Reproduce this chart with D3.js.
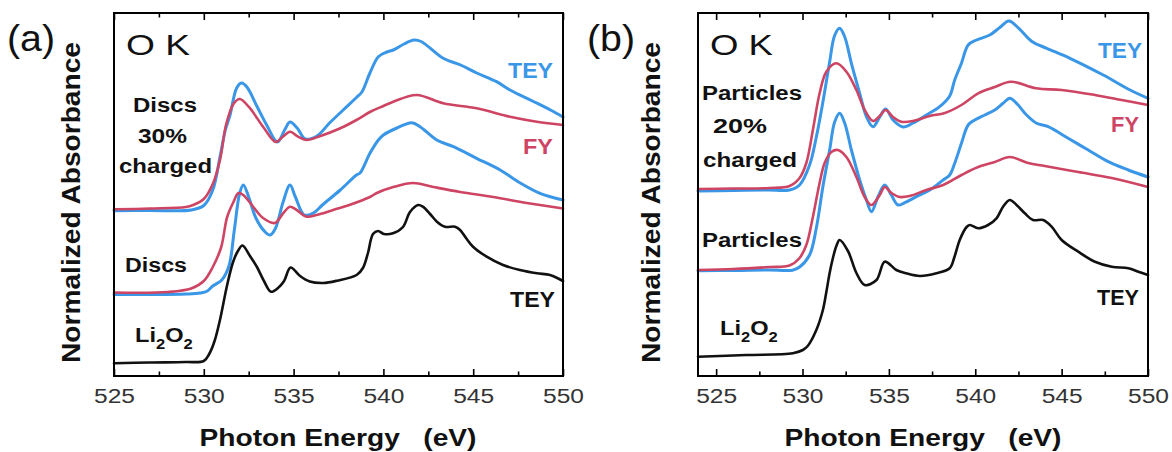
<!DOCTYPE html>
<html>
<head>
<meta charset="utf-8">
<script src="https://cdn.jsdelivr.net/npm/d3@7"></script>
<style>
  html, body { margin: 0; padding: 0; background: #fff; }
  svg { display: block; font-family: "Liberation Sans", Arial, sans-serif; }
</style>
</head>
<body>
<svg id="chart" width="1172" height="452"></svg>
<script>
// ---- data: [photon energy (eV), normalized absorbance (offset, a.u.)] ----
const majorTicks = [525, 530, 535, 540, 545, 550];
const minorTicks = [527.5, 532.5, 537.5, 542.5, 547.5];
const xTitle = 'Photon Energy   (eV)';
const yTitle = 'Normalized Absorbance';

// (a) discs
const discsChargedTEY = [[525,1.653],[527,1.655],[529.3,1.66],[530,1.705],[530.5,1.86],[530.9,2.19],[531.2,2.46],[531.46,2.61],[531.83,2.88],[532.1,2.93],[532.4,2.89],[532.95,2.70],[533.5,2.51],[534.1,2.34],[534.5,2.46],[534.8,2.54],[535.2,2.48],[535.65,2.37],[536.3,2.40],[537.0,2.53],[537.76,2.66],[538.5,2.785],[538.8,2.84],[539.25,3.03],[539.72,3.193],[540.2,3.24],[540.55,3.26],[541.15,3.32],[541.7,3.36],[542.1,3.345],[543.33,3.177],[544.3,3.11],[545.2,3.03],[546.3,2.943],[547.05,2.86],[548.3,2.75],[549.3,2.66],[550,2.59]];
const discsChargedFY = [[525,1.667],[527,1.675],[529,1.69],[529.4,1.71],[530,1.77],[530.5,1.92],[530.9,2.16],[531.25,2.52],[531.65,2.72],[532.0,2.77],[532.5,2.693],[533.3,2.493],[534.0,2.34],[534.4,2.393],[534.8,2.443],[535.25,2.393],[535.7,2.36],[536.5,2.40],[537.6,2.477],[538.5,2.56],[539.3,2.645],[540.0,2.70],[540.55,2.743],[541.85,2.81],[543.33,2.727],[545.19,2.677],[547.05,2.593],[548.54,2.543],[550,2.51]];
const discsTEY = [[525,0.815],[527,0.815],[529,0.82],[529.8,0.83],[530.2,0.85],[530.5,0.9],[531.0,0.96],[531.4,1.1],[531.7,1.46],[532.0,1.83],[532.2,1.91],[532.5,1.79],[532.9,1.58],[533.4,1.443],[533.7,1.41],[534.0,1.48],[534.4,1.73],[534.8,1.91],[535.1,1.79],[535.6,1.61],[536.1,1.63],[536.6,1.71],[537.6,1.86],[538.5,2.01],[538.7,2.03],[539.25,2.227],[539.72,2.36],[540.0,2.41],[540.75,2.48],[541.58,2.533],[542.04,2.493],[542.97,2.36],[543.9,2.293],[545.19,2.177],[546.5,2.06],[547.6,1.933],[548.72,1.827],[550,1.76]];
const discsFY = [[525,0.835],[528,0.84],[529.3,0.875],[530.0,0.95],[530.5,1.09],[530.97,1.29],[531.3,1.59],[531.65,1.74],[531.93,1.83],[532.2,1.81],[532.76,1.69],[533.3,1.58],[533.96,1.53],[534.43,1.63],[534.8,1.693],[535.17,1.66],[535.73,1.593],[536.28,1.61],[537.2,1.66],[538.1,1.71],[539.25,1.79],[539.63,1.83],[540.55,1.89],[541.66,1.93],[542.78,1.89],[544.27,1.84],[546.12,1.79],[547.98,1.73],[550,1.675]];
const discsRefTEY = [[525,0.127],[527,0.135],[529,0.14],[530.0,0.15],[530.3,0.22],[530.6,0.35],[530.9,0.56],[531.3,0.91],[531.63,1.14],[531.9,1.25],[532.15,1.305],[532.57,1.2],[532.96,1.09],[533.35,0.95],[533.74,0.843],[534.13,0.88],[534.47,0.95],[534.83,1.085],[535.36,1.0],[535.9,0.945],[536.64,0.93],[537.42,0.953],[538.51,1.01],[538.86,1.08],[539.14,1.23],[539.42,1.42],[539.7,1.45],[540.03,1.42],[540.53,1.427],[541.09,1.49],[541.48,1.64],[541.94,1.71],[542.2,1.693],[542.6,1.62],[542.98,1.543],[543.43,1.493],[543.99,1.493],[544.27,1.46],[544.6,1.38],[544.99,1.293],[545.75,1.193],[546.66,1.11],[547.6,1.06],[548.55,1.027],[549.28,1.01],[550,0.95]];

// (b) particles
const particlesChargedTEY = [[523.95,1.85],[526,1.855],[528,1.86],[529.25,1.86],[529.83,1.91],[530.41,2.11],[530.8,2.39],[531.18,2.74],[531.57,3.14],[531.86,3.405],[532.15,3.477],[532.44,3.393],[532.83,3.127],[533.31,2.827],[533.7,2.593],[534.08,2.493],[534.47,2.59],[534.81,2.67],[535.24,2.56],[535.82,2.49],[536.4,2.53],[537.17,2.61],[537.94,2.693],[538.52,2.8],[538.81,2.96],[539.2,3.127],[539.59,3.31],[540.07,3.36],[540.84,3.41],[541.42,3.485],[541.95,3.55],[542.52,3.477],[543.3,3.343],[544.14,3.277],[545.48,3.177],[547.41,3.01],[548.96,2.86],[550,2.777]];
const particlesChargedFY = [[523.95,1.87],[526,1.875],[528.09,1.88],[529.25,1.90],[529.83,1.98],[530.22,2.13],[530.6,2.46],[530.99,2.827],[531.38,3.043],[531.96,3.127],[532.54,3.043],[533.12,2.86],[533.6,2.66],[534.08,2.55],[534.47,2.60],[534.81,2.66],[535.24,2.59],[535.72,2.543],[536.4,2.55],[537.37,2.60],[538.24,2.63],[539.2,2.71],[540.17,2.827],[541.13,2.89],[542.06,2.943],[543.51,2.877],[545.0,2.86],[546.93,2.81],[548.48,2.76],[550,2.71]];
const particlesTEY = [[523.95,1.053],[526,1.055],[528.09,1.06],[529.42,1.058],[529.83,1.09],[530.41,1.21],[530.8,1.48],[531.18,1.893],[531.57,2.26],[531.86,2.54],[532.15,2.627],[532.44,2.53],[532.83,2.26],[533.31,1.96],[533.7,1.76],[533.99,1.643],[534.37,1.793],[534.76,1.91],[535.14,1.81],[535.53,1.71],[535.92,1.733],[536.59,1.793],[537.37,1.86],[538.14,1.96],[538.52,2.01],[538.81,2.127],[539.2,2.327],[539.59,2.51],[539.97,2.56],[540.55,2.61],[541.13,2.66],[541.61,2.727],[542.0,2.777],[542.39,2.727],[542.97,2.61],[543.55,2.527],[544.22,2.493],[545.38,2.377],[546.54,2.26],[547.7,2.143],[548.86,2.06],[550,1.99]];
const particlesFY = [[523.95,1.06],[526,1.07],[528.09,1.09],[529.25,1.105],[529.83,1.18],[530.22,1.31],[530.6,1.59],[530.99,1.93],[531.28,2.13],[531.67,2.24],[532.05,2.26],[532.54,2.19],[533.12,1.99],[533.6,1.79],[533.99,1.71],[534.47,1.81],[534.76,1.89],[535.14,1.83],[535.63,1.79],[536.2,1.80],[537.17,1.86],[538.14,1.91],[539.2,2.01],[540.17,2.09],[541.13,2.14],[542.0,2.19],[543.06,2.13],[544.03,2.10],[545.96,2.04],[547.9,1.98],[550,1.89]];
const particlesRefTEY = [[523.95,0.193],[526.74,0.21],[529.44,0.227],[530.02,0.26],[530.3,0.3],[530.8,0.46],[531.18,0.66],[531.38,0.84],[531.57,1.03],[531.76,1.18],[531.96,1.3],[532.15,1.36],[532.63,1.25],[533.12,1.03],[533.6,0.91],[534.28,0.96],[534.76,1.143],[535.43,1.06],[536.0,1.027],[536.8,1.0],[537.75,1.027],[538.52,1.077],[538.8,1.193],[539.1,1.36],[539.5,1.49],[539.68,1.51],[540.17,1.477],[540.74,1.51],[541.23,1.577],[541.61,1.693],[542.0,1.76],[542.39,1.71],[542.87,1.627],[543.35,1.56],[543.93,1.56],[544.42,1.493],[545.0,1.36],[545.96,1.243],[546.93,1.143],[547.9,1.093],[548.86,1.077],[549.44,1.043],[550,1.01]];

const BLUE = '#3a96e6';
const RED = '#cd4563';
const BLACK = '#111';

const svg = d3.select('#chart');

const panels = [
    {
        letter: '(a)', letterX: 7,
        box: { left: 114, top: 13, right: 563, bottom: 376 },
        domain: [525, 550],
        series: [
            { data: discsChargedTEY, color: BLUE, width: 3 },
            { data: discsChargedFY, color: RED, width: 2.6 },
            { data: discsTEY, color: BLUE, width: 3 },
            { data: discsFY, color: RED, width: 2.6 },
            { data: discsRefTEY, color: BLACK, width: 2.6 }
        ],
        labels: [
            { text: 'O K', x: 126, y: 55, size: 30, weight: 'normal', fill: BLACK, w: 64 },
            { text: 'Discs', x: 133, y: 112, size: 20, fill: BLACK, w: 64 },
            { text: '30%', x: 138, y: 143, size: 20, fill: BLACK, w: 49 },
            { text: 'charged', x: 119, y: 173, size: 20, fill: BLACK, w: 93 },
            { text: 'Discs', x: 125, y: 272, size: 20, fill: BLACK, w: 62 },
            { text: 'TEY', x: 508, y: 78, size: 22, fill: BLUE, w: 45 },
            { text: 'FY', x: 523, y: 154, size: 22, fill: RED, w: 30 },
            { text: 'TEY', x: 510, y: 307, size: 22, fill: BLACK, w: 45 }
        ],
        li2o2: { x: 135, y: 342 },
        yTitleX: 80,
        xTitleX: 338
    },
    {
        letter: '(b)', letterX: 587,
        box: { left: 698, top: 13, right: 1148, bottom: 376 },
        domain: [523.95, 550],
        series: [
            { data: particlesChargedTEY, color: BLUE, width: 3 },
            { data: particlesChargedFY, color: RED, width: 2.6 },
            { data: particlesTEY, color: BLUE, width: 3 },
            { data: particlesFY, color: RED, width: 2.6 },
            { data: particlesRefTEY, color: BLACK, width: 2.6 }
        ],
        labels: [
            { text: 'O K', x: 710, y: 55, size: 30, weight: 'normal', fill: BLACK, w: 63 },
            { text: 'Particles', x: 702, y: 100, size: 20, fill: BLACK, w: 100 },
            { text: '20%', x: 713, y: 133, size: 20, fill: BLACK, w: 54 },
            { text: 'charged', x: 703, y: 167, size: 20, fill: BLACK, w: 94 },
            { text: 'Particles', x: 702, y: 247, size: 20, fill: BLACK, w: 100 },
            { text: 'TEY', x: 1098, y: 58, size: 22, fill: BLUE, w: 44 },
            { text: 'FY', x: 1111, y: 132, size: 22, fill: RED, w: 28 },
            { text: 'TEY', x: 1097, y: 305, size: 22, fill: BLACK, w: 42 }
        ],
        li2o2: { x: 720, y: 335 },
        yTitleX: 660,
        xTitleX: 923
    }
];

function drawPanel (cfg) {
    const b = cfg.box;
    const x = d3.scaleLinear().domain(cfg.domain).range([b.left, b.right]);
    const y = d3.scaleLinear().domain([0, 3.63]).range([b.bottom, b.top]);
    const g = svg.append('g');

    const line = d3.line()
        .curve(d3.curveCatmullRom.alpha(0.5))
        .x(d => x(d[0]))
        .y(d => y(d[1]));

    g.append('g').selectAll('path')
        .data(cfg.series)
        .join('path')
        .attr('d', d => line(d.data))
        .attr('fill', 'none')
        .attr('stroke', d => d.color)
        .attr('stroke-width', d => d.width)
        .attr('stroke-linejoin', 'round')
        .attr('stroke-linecap', 'round');

    // ticks, inward on top and bottom
    const axes = [
        { gen: d3.axisBottom(x).tickValues(majorTicks).tickSize(-7), at: b.bottom, labels: true },
        { gen: d3.axisBottom(x).tickValues(minorTicks).tickSize(-4.5), at: b.bottom },
        { gen: d3.axisTop(x).tickValues(majorTicks).tickSize(-7), at: b.top },
        { gen: d3.axisTop(x).tickValues(minorTicks).tickSize(-4.5), at: b.top }
    ];
    axes.forEach(a => {
        a.gen.tickPadding(12).tickFormat(a.labels ? d3.format('d') : '');
        const ax = g.append('g')
            .attr('transform', `translate(0,${a.at})`)
            .call(a.gen)
            .attr('font-family', null)
            .attr('font-size', 21)
            .attr('color', '#000');
        ax.select('.domain').remove();
        ax.selectAll('line').attr('stroke-width', 1.6);
        ax.selectAll('text')
            .attr('fill', '#333')
            .attr('transform', 'scale(1.17,1)');
    });

    g.append('rect')
        .attr('x', b.left).attr('y', b.top)
        .attr('width', b.right - b.left).attr('height', b.bottom - b.top)
        .attr('fill', 'none')
        .attr('stroke', '#000')
        .attr('stroke-width', 2);

    // in-plot labels
    g.selectAll('text.lbl')
        .data(cfg.labels)
        .join('text')
        .attr('class', 'lbl')
        .attr('x', d => d.x)
        .attr('y', d => d.y)
        .attr('font-size', d => d.size)
        .attr('font-weight', d => d.weight || 'bold')
        .attr('fill', d => d.fill)
        .attr('textLength', d => d.w)
        .attr('lengthAdjust', 'spacingAndGlyphs')
        .style('white-space', 'pre')
        .text(d => d.text);

    const li = g.append('text')
        .attr('transform', `translate(${cfg.li2o2.x},${cfg.li2o2.y}) scale(1.18,1)`)
        .attr('font-size', 20)
        .attr('font-weight', 'bold')
        .attr('fill', BLACK);
    li.append('tspan').text('Li');
    li.append('tspan').attr('font-size', 14).attr('dy', 7).text('2');
    li.append('tspan').attr('dy', -7).text('O');
    li.append('tspan').attr('font-size', 14).attr('dy', 7).text('2');

    // panel letter
    svg.append('text')
        .attr('x', cfg.letterX).attr('y', 51)
        .attr('font-size', 36)
        .attr('fill', BLACK)
        .attr('textLength', 48)
        .attr('lengthAdjust', 'spacingAndGlyphs')
        .text(cfg.letter);

    // axis titles
    svg.append('text')
        .attr('x', cfg.xTitleX).attr('y', 446)
        .attr('text-anchor', 'middle')
        .attr('font-size', 24)
        .attr('font-weight', 'bold')
        .attr('fill', BLACK)
        .attr('textLength', 277)
        .attr('lengthAdjust', 'spacingAndGlyphs')
        .style('white-space', 'pre')
        .text(xTitle);

    svg.append('text')
        .attr('transform', `translate(${cfg.yTitleX},202.5) rotate(-90)`)
        .attr('text-anchor', 'middle')
        .attr('font-size', 25)
        .attr('font-weight', 'bold')
        .attr('fill', BLACK)
        .attr('textLength', 321)
        .attr('lengthAdjust', 'spacingAndGlyphs')
        .text(yTitle);
}

panels.forEach(drawPanel);
</script>
</body>
</html>
